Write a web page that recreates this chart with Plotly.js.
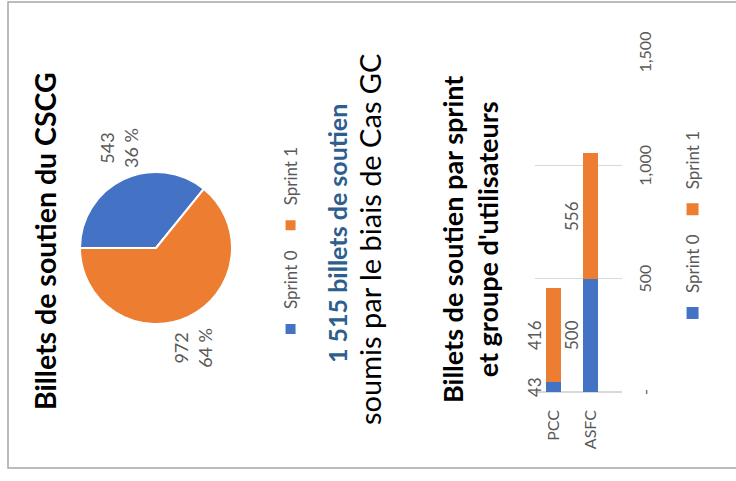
<!DOCTYPE html>
<html>
<head>
<meta charset="utf-8">
<script src="https://cdn.plot.ly/plotly-3.0.1.min.js"></script>
<style>
  html, body { margin: 0; padding: 0; background: #ffffff; }
  #wrap { position: relative; width: 736px; height: 481px; overflow: hidden; background: #ffffff; }
  #chart { position: absolute; left: 0; top: 0; width: 481px; height: 736px;
           transform-origin: 0 0; transform: translate(0px, 481px) rotate(-90deg); }
</style>
</head>
<body>
<div id="wrap"><div id="chart"></div></div>
<script>
// ---- data ----
const series = ["Sprint 0", "Sprint 1"];
const groups = ["PCC", "ASFC"];
const sprint0 = [43, 500];
const sprint1 = [416, 556];
const pieValues = [543, 972];
const xTickVals = [0, 500, 1000, 1500];
const xTickText = ["-", "500", "1,000", "1,500"];
const colors = ["#4472C4", "#ED7D31"];
const totalTickets = "1 515";

const FONT = "Lato, 'Open Sans', sans-serif";
const GREY = "#595959";
const W = 481, H = 736;
const px = u => u / W;          // horizontal pixel -> paper
const py = v => 1 - v / H;      // vertical pixel -> paper

const pieTotal = pieValues.reduce((a, b) => a + b, 0);
const piePct = pieValues.map(v => Math.round(v / pieTotal * 100) + " %");

const pie = {
  type: "pie",
  labels: series,
  values: pieValues,
  text: piePct,
  texttemplate: "%{value}<br>%{text}",
  textposition: "outside",
  textfont: { family: FONT, size: 18, color: GREY },
  marker: { colors: colors, line: { color: "#ffffff", width: 2 } },
  sort: false,
  direction: "clockwise",
  rotation: 0,
  domain: { x: [px(157), px(309)], y: [py(232), py(80)] },
  legend: "legend",
  hoverinfo: "label+value+percent"
};

const bar0 = {
  type: "bar", orientation: "h", name: series[0],
  y: groups, x: sprint0,
  marker: { color: colors[0] },
  xaxis: "x", yaxis: "y", legend: "legend2"
};
const bar1 = {
  type: "bar", orientation: "h", name: series[1],
  y: groups, x: sprint1,
  marker: { color: colors[1] },
  xaxis: "x", yaxis: "y", legend: "legend2"
};

// bar value labels, placed at the middle of each segment, just above the bar
const barLabels = [];
groups.forEach((g, i) => {
  barLabels.push({ x: sprint0[i] / 2, y: g, text: String(sprint0[i]) });
  barLabels.push({ x: sprint0[i] + sprint1[i] / 2, y: g, text: String(sprint1[i]) });
});
const labelAnnots = barLabels.map(l => ({
  xref: "x", yref: "y", x: l.x, y: l.y, text: l.text, showarrow: false,
  xanchor: "center", yanchor: "middle",
  yshift: 19, font: { family: FONT, size: 17, color: GREY }
}));

function txt(u, v, text, size, color) {
  return { xref: "paper", yref: "paper", x: px(u), y: py(v), showarrow: false,
           xanchor: "center", yanchor: "middle", text: text,
           font: { family: FONT, size: size, color: color } };
}

const layout = {
  width: W, height: H,
  margin: { l: 0, r: 0, t: 0, b: 0 },
  paper_bgcolor: "#ffffff", plot_bgcolor: "#ffffff",
  font: { family: FONT, color: GREY },
  barmode: "stack",
  bargap: 0.615,
  showlegend: true,
  legend: {
    orientation: "h", x: px(236), xanchor: "center", y: py(291), yanchor: "middle",
    traceorder: "normal",
    font: { family: FONT, size: 17, color: GREY }, itemwidth: 30, bgcolor: "rgba(0,0,0,0)"
  },
  legend2: {
    orientation: "h", x: px(252), xanchor: "center", y: py(693), yanchor: "middle",
    traceorder: "normal",
    font: { family: FONT, size: 17, color: GREY }, itemwidth: 30, bgcolor: "rgba(0,0,0,0)"
  },
  xaxis: {
    domain: [px(89), px(429.5)], anchor: "y",
    range: [0, 1502], tickvals: xTickVals, ticktext: xTickText,
    showgrid: true, gridcolor: "#d9d9d9", gridwidth: 1.5,
    zeroline: true, zerolinecolor: "#d9d9d9", zerolinewidth: 1.5,
    showline: false, ticks: "", ticklabelstandoff: 12,
    tickfont: { family: FONT, size: 16, color: GREY }, fixedrange: true
  },
  yaxis: {
    domain: [py(622), py(535)], anchor: "x",
    autorange: "reversed", type: "category",
    showgrid: false, zeroline: false, showline: false, ticks: "",
    ticklabelstandoff: 17,
    tickfont: { family: FONT, size: 16, color: GREY }, fixedrange: true
  },
  shapes: [{
    type: "rect", xref: "paper", yref: "paper",
    x0: px(13), x1: px(479), y0: -0.05, y1: py(8),
    line: { color: "#a6a6a6", width: 1.5 }, fillcolor: "rgba(0,0,0,0)"
  }],
  annotations: [
    txt(240, 45, "<b>Billets de soutien du CSCG</b>", 28.5, "#000000"),
    txt(247, 337, "<b>" + totalTickets + " billets de soutien</b>", 25, "#2E5E8E"),
    txt(241, 370, "soumis par le biais de Cas GC", 29, "#000000"),
    txt(241, 470, "<b>Billets de soutien par sprint<br>et groupe d'utilisateurs</b>", 27, "#000000")
  ].concat(labelAnnots)
};

Plotly.newPlot("chart", [pie, bar0, bar1], layout, { staticPlot: true, displayModeBar: false });
</script>
</body>
</html>
